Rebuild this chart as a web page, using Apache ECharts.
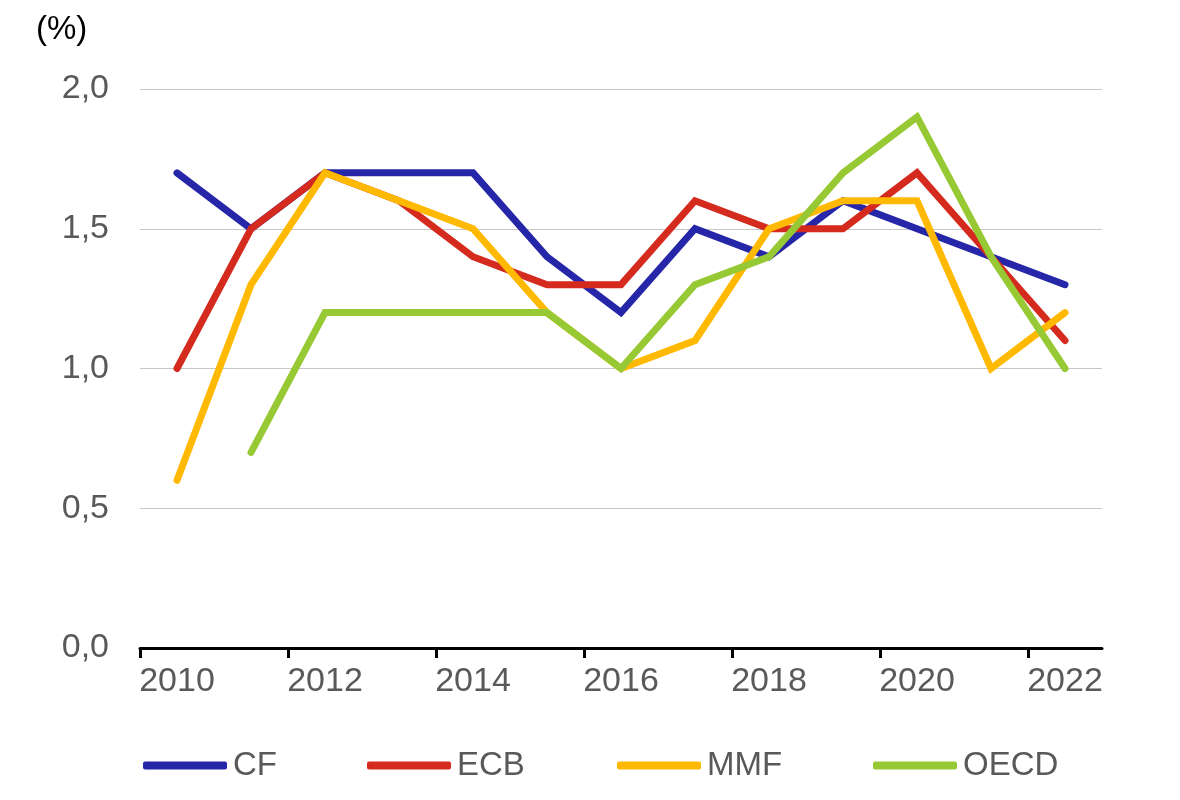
<!DOCTYPE html>
<html>
<head>
<meta charset="utf-8">
<script src="https://cdn.jsdelivr.net/npm/echarts@6/dist/echarts.min.js"></script>
<style>html,body{margin:0;padding:0;background:#fff}#c{width:1180px;height:800px}</style>
</head>
<body>
<div id="c"></div>
<script>
const years = ['2010','2011','2012','2013','2014','2015','2016','2017','2018','2019','2020','2021','2022'];
const cf   = [1.7, 1.5, 1.7, 1.7, 1.7, 1.4, 1.2, 1.5, 1.4, 1.6, 1.5, 1.4, 1.3];
const ecb  = [1.0, 1.5, 1.7, 1.6, 1.4, 1.3, 1.3, 1.6, 1.5, 1.5, 1.7, 1.4, 1.1];
const mmf  = [0.6, 1.3, 1.7, 1.6, 1.5, 1.2, 1.0, 1.1, 1.5, 1.6, 1.6, 1.0, 1.2];
const oecd = [null, 0.7, 1.2, 1.2, 1.2, 1.2, 1.0, 1.3, 1.4, 1.7, 1.9, 1.4, 1.0];
const seriesNames = ['CF','ECB','MMF','OECD'];
const colors = ['#2626a8','#d52b1e','#ffb900','#97c934'];
const seriesData = [cf, ecb, mmf, oecd];
const legendLeft = [138, 362, 612, 868];
const tickBoundaries = [0, 2, 4, 6, 8, 10, 12];

const font = 'Liberation Sans, Arial, sans-serif';
const chart = echarts.init(document.getElementById('c'));
chart.setOption({
  animation: false,
  backgroundColor: '#fff',
  grid: {left: 140, right: 78, top: 89, bottom: 152, containLabel: false},
  graphic: [{
    type: 'text', left: 36, top: 13,
    style: {text: '(%)', font: '33px ' + font, fill: '#000'}
  }],
  legend: seriesNames.map((n, i) => ({
    data: [n], left: legendLeft[i], top: 744,
    itemWidth: 84, itemHeight: 8, itemGap: 0,
    textStyle: {fontSize: 33, fontFamily: font, color: '#595959', padding: [0,0,0,1]},
    icon: 'roundRect'
  })),
  xAxis: [{
    type: 'category', data: years, boundaryGap: true, position: 'bottom',
    axisLine: {lineStyle: {color: '#000', width: 3}},
    axisTick: {show: false},
    axisLabel: {interval: 1, fontSize: 34, fontFamily: font, color: '#595959', margin: 17}
  }, {
    type: 'value', min: 0, max: years.length, position: 'bottom',
    axisLine: {show: false}, splitLine: {show: false},
    axisLabel: {show: false},
    axisTick: {show: true, customValues: tickBoundaries, length: 10, lineStyle: {color: '#000', width: 3}}
  }],
  yAxis: {
    type: 'value', min: 0, max: 2, interval: 0.5,
    axisLine: {show: false}, axisTick: {show: false},
    splitLine: {lineStyle: {color: '#c6c6c6', width: 1}},
    axisLabel: {fontSize: 34, fontFamily: font, color: '#595959', margin: 31,
      formatter: v => v.toFixed(1).replace('.', ',')}
  },
  series: seriesNames.map((n, i) => ({
    name: n, type: 'line', data: seriesData[i], xAxisIndex: 0,
    symbol: 'none', showSymbol: false,
    itemStyle: {color: colors[i]},
    lineStyle: {color: colors[i], width: 7, cap: 'round', join: 'miter'},
    connectNulls: false
  }))
});
</script>
</body>
</html>
